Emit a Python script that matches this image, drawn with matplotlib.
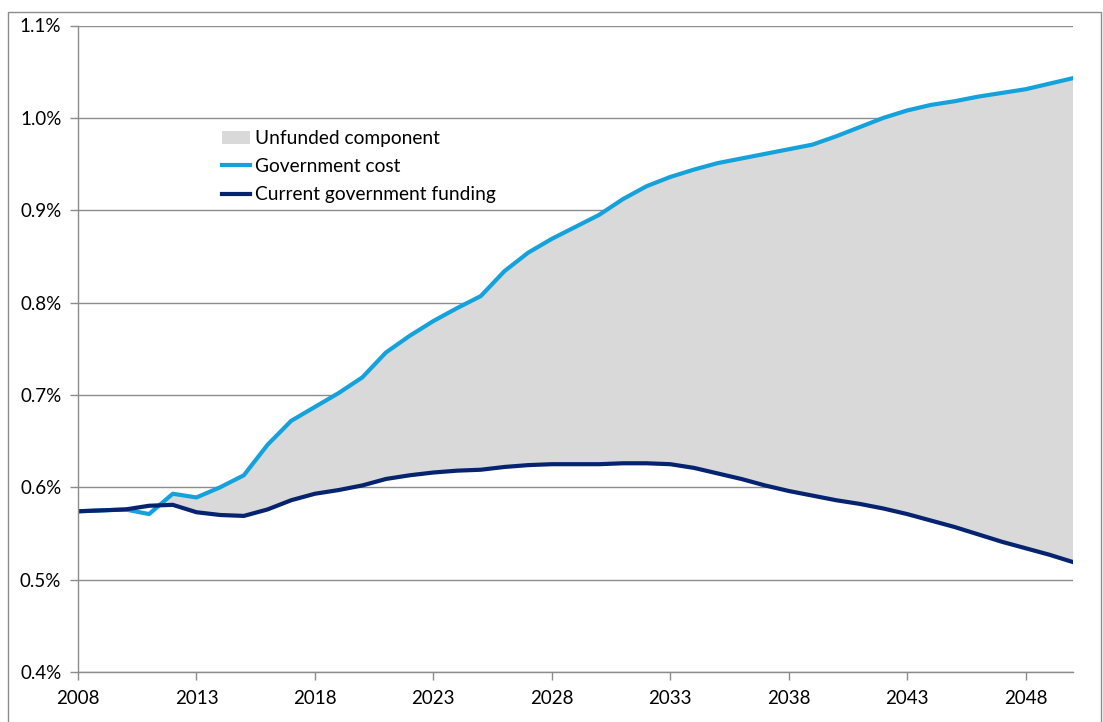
import numpy as np
import matplotlib.pyplot as plt
from matplotlib.patches import Rectangle
from matplotlib.ticker import FuncFormatter

plt.rcParams['font.family'] = ['Lato', 'DejaVu Sans']

years = list(range(2008, 2051))

# Government cost, % of GDP
cost = [0.574, 0.575, 0.576, 0.571, 0.593, 0.589, 0.600, 0.613, 0.646, 0.672,
        0.687, 0.702, 0.719, 0.746, 0.764, 0.780, 0.794, 0.807, 0.834, 0.854,
        0.869, 0.882, 0.895, 0.912, 0.926, 0.936, 0.944, 0.951, 0.956, 0.961,
        0.966, 0.971, 0.980, 0.990, 1.000, 1.008, 1.014, 1.018, 1.023, 1.027,
        1.031, 1.037, 1.043]

# Current government funding, % of GDP
funding = [0.574, 0.575, 0.576, 0.580, 0.581, 0.573, 0.570, 0.569, 0.576, 0.586,
           0.593, 0.597, 0.602, 0.609, 0.613, 0.616, 0.618, 0.619, 0.622, 0.624,
           0.625, 0.625, 0.625, 0.626, 0.626, 0.625, 0.621, 0.615, 0.609, 0.602,
           0.596, 0.591, 0.586, 0.582, 0.577, 0.571, 0.564, 0.557, 0.549, 0.541,
           0.534, 0.527, 0.519]

tick_years = [2008, 2013, 2018, 2023, 2028, 2033, 2038, 2043, 2048]
y_ticks = [0.4, 0.5, 0.6, 0.7, 0.8, 0.9, 1.0, 1.1]

light_blue = '#13a2dc'
navy = '#05236e'
grid_col = '#8c8c8c'

fig = plt.figure(figsize=(11.03, 7.22), dpi=100)
ax = fig.add_axes([78 / 1103, 50 / 722, 995 / 1103, 646.5 / 722])

x = np.array(years)
c = np.array(cost)
f = np.array(funding)

ax.fill_between(x, f, c, where=c >= f, interpolate=True, color='#d9d9d9',
                linewidth=0, label='Unfunded component', zorder=2)
ax.plot(x, c, color=light_blue, lw=3, label='Government cost', zorder=3)
ax.plot(x, f, color=navy, lw=3, label='Current government funding', zorder=4)

ax.set_xlim(2008, 2050)
ax.set_ylim(0.4, 1.1)
ax.set_xticks(tick_years)
ax.set_yticks(y_ticks)
ax.yaxis.set_major_formatter(FuncFormatter(lambda v, p: f'{v:.1f}%'))

ax.grid(axis='y', color=grid_col, lw=1, zorder=1)
for s in ['top', 'right']:
    ax.spines[s].set_visible(False)
for s in ['left', 'bottom']:
    ax.spines[s].set_color(grid_col)
    ax.spines[s].set_linewidth(1)
    ax.spines[s].set_zorder(5)
ax.tick_params(axis='both', colors=grid_col, length=6, width=1,
               labelcolor='black', labelsize=13.5)
ax.tick_params(axis='y', pad=6)
ax.tick_params(axis='x', pad=7)

leg = ax.legend(loc='upper left', bbox_to_anchor=((222 - 78) / 995, (672 - 130) / 646.5),
                frameon=False, fontsize=13.8, handlelength=1.45, handletextpad=0.26,
                labelspacing=0.58, borderpad=0, borderaxespad=0)

# chart border
fig.patches.append(Rectangle((8 / 1103, -0.01), (1101 - 8) / 1103, (722 - 12) / 722 + 0.01,
                             transform=fig.transFigure, fill=False,
                             edgecolor=grid_col, lw=1))

fig.savefig('out.png', dpi=100)
